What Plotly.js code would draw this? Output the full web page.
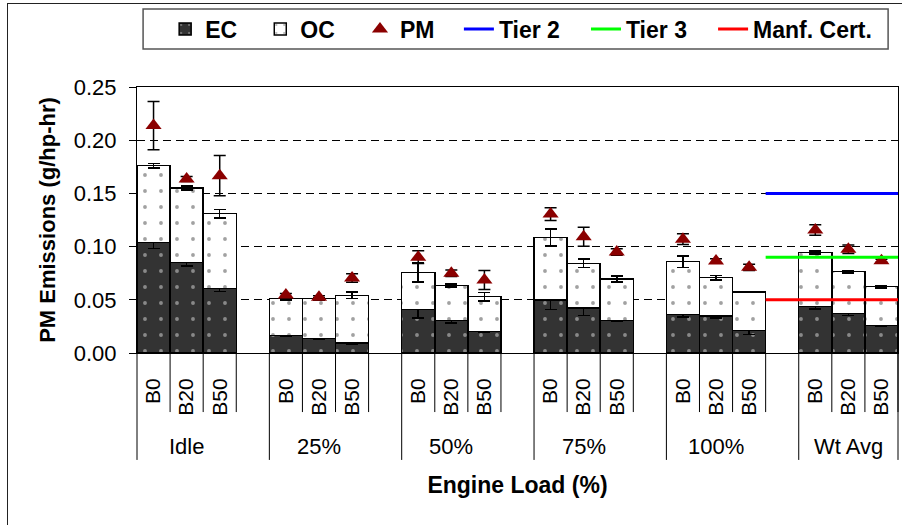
<!DOCTYPE html>
<html><head><meta charset="utf-8">
<script src="https://cdn.plot.ly/plotly-3.0.1.min.js"></script>
<style>
html,body{margin:0;padding:0;background:#fff;}
#wrap{position:relative;width:902px;height:525px;overflow:hidden;}
#chart{width:902px;height:525px;}
#frame{position:absolute;left:7px;top:3px;width:1000px;height:1000px;border-left:1.5px solid #222;border-top:1.5px solid #222;pointer-events:none;}
</style></head><body>
<div id="wrap"><div id="chart"></div><div id="frame"></div></div>
<script>
// ---- data ----
const groups = ['Idle', '25%', '50%', '75%', '100%', 'Wt Avg'];
const fuels = ['B0', 'B20', 'B50'];
const ecVals = [0.104, 0.085, 0.0605, 0.0166, 0.0138, 0.0094, 0.041, 0.0304, 0.020, 0.0498, 0.0423, 0.0304, 0.036, 0.0348, 0.0213, 0.0435, 0.0373, 0.0257];
const ecErr  = [0.006, 0.003, 0.0025, 0.001, 0.0008, 0.001, 0.008, 0.0022, 0.0005, 0.0088, 0.0069, 0.001, 0.002, 0.0017, 0.004, 0.002, 0.002, 0.001];
const ocVals = [0.072, 0.070, 0.0705, 0.0344, 0.0372, 0.0448, 0.0345, 0.0329, 0.0329, 0.0586, 0.042, 0.0391, 0.0498, 0.036, 0.036, 0.0511, 0.0391, 0.0366];
const ocErr  = [0.002, 0.002, 0.004, 0.001, 0.001, 0.003, 0.009, 0.0015, 0.004, 0.008, 0.004, 0.003, 0.0055, 0.002, 0.0005, 0.0015, 0.001, 0.001];
const pmVals = [0.2137, 0.1635, 0.1667, 0.0545, 0.0523, 0.0705, 0.090, 0.0749, 0.0686, 0.1306, 0.1093, 0.0949, 0.107, 0.0865, 0.0805, 0.1156, 0.0974, 0.0867];
const pmErr  = [0.0226, 0.0023, 0.019, 0.0015, 0.0015, 0.004, 0.006, 0.003, 0.009, 0.006, 0.009, 0.003, 0.005, 0.002, 0.003, 0.005, 0.004, 0.0015];
const tierNames = ['Tier 2', 'Tier 3', 'Manf. Cert.'];
const tierVals = [0.15, 0.09, 0.05];

// ---- layout helpers ----
const FONT = 'Liberation Sans, Arial, Helvetica, sans-serif';
const slotsPerGroup = fuels.length + 1;
const xPos = [], xLab = [];
groups.forEach((g, gi) => fuels.forEach((f, fi) => { xPos.push(gi * slotsPerGroup + fi); xLab.push(f); }));
const xMin = -0.5, xMax = xPos[xPos.length - 1] + 0.5;
const toPaper = v => (v - xMin) / (xMax - xMin);

const tierColors = ['#0000FF', '#00FF00', '#FF0000'];
const lastGroupStart = (groups.length - 1) * slotsPerGroup;
const tierX = [lastGroupStart - 1.5, xMax];

const traces = [
  { type: 'bar', name: 'EC', x: xPos, y: ecVals, legend: 'legend',
    marker: { color: '#333333', line: { color: '#000', width: 1.5 },
      pattern: { shape: '.', bgcolor: '#333333', fgcolor: '#e0e0e0', size: 16, solidity: 0.045, fillmode: 'overlay' } },
    error_y: { type: 'data', array: ecErr, visible: true, color: '#000', thickness: 1.5, width: 6 } },
  { type: 'bar', name: 'OC', x: xPos, y: ocVals, legend: 'legend2',
    marker: { color: '#ffffff', line: { color: '#000', width: 1.5 },
      pattern: { shape: '.', bgcolor: '#ffffff', fgcolor: '#444444', size: 16, solidity: 0.045, fillmode: 'overlay' } },
    error_y: { type: 'data', array: ocErr, visible: true, color: '#000', thickness: 1.5, width: 6 } },
  { type: 'scatter', mode: 'markers', name: 'PM', x: xPos, y: pmVals, legend: 'legend3',
    marker: { symbol: 'triangle-up', size: 14, color: '#8B0000' },
    error_y: { type: 'data', array: pmErr, visible: true, color: '#000', thickness: 1.5, width: 6 } }
];
tierNames.forEach((n, i) => traces.push({
  type: 'scatter', mode: 'lines', name: n, x: tierX, y: [tierVals[i], tierVals[i]],
  legend: 'legend' + (i + 4), line: { color: tierColors[i], width: 3 }
}));

// separators below the axis
const shapes = [];
xPos.forEach(p => shapes.push({ type: 'line', xref: 'paper', yref: 'paper',
  x0: toPaper(p + 0.5), x1: toPaper(p + 0.5), y0: 0, y1: -0.222, line: { color: '#000', width: 1 } }));
const longX = groups.map((g, gi) => gi * slotsPerGroup - 0.5).concat([xMax]);
longX.forEach(v => shapes.push({ type: 'line', xref: 'paper', yref: 'paper',
  x0: toPaper(v), x1: toPaper(v), y0: 0, y1: -0.402, line: { color: '#000', width: 1 } }));
// legend frame
shapes.push({ type: 'rect', xref: 'paper', yref: 'paper', x0: 0.008, x1: 0.987, y0: 1.143, y1: 1.293,
  line: { color: '#555', width: 1.5 }, fillcolor: 'rgba(0,0,0,0)' });

const annotations = groups.map((g, gi) => ({
  text: g, xref: 'paper', yref: 'paper', x: toPaper(gi * slotsPerGroup + 1), y: -0.353,
  xanchor: 'center', yanchor: 'middle', showarrow: false, font: { family: FONT, size: 22, color: '#000' }
}));

const legFont = { family: FONT, size: 23, weight: 'bold', color: '#000' };
const mkLeg = x => ({ x: x, y: 1.218, xanchor: 'left', yanchor: 'middle', orientation: 'h',
  bgcolor: 'rgba(0,0,0,0)', borderwidth: 0, font: legFont, itemwidth: 30 });

const layout = {
  width: 902, height: 525,
  margin: { l: 137, r: 4, t: 87, b: 172, pad: 0 },
  paper_bgcolor: '#fff', plot_bgcolor: '#fff',
  barmode: 'stack', bargap: 0,
  font: { family: FONT, color: '#000' },
  showlegend: true,
  legend: mkLeg(0.037), legend2: mkLeg(0.162), legend3: mkLeg(0.293),
  legend4: mkLeg(0.423), legend5: mkLeg(0.590), legend6: mkLeg(0.757),
  xaxis: { range: [xMin, xMax], tickvals: xPos, ticktext: xLab, tickangle: -90, ticks: '',
    showgrid: false, zeroline: false, showline: true, mirror: true, linecolor: '#000', linewidth: 1,
    tickfont: { family: FONT, size: 21, color: '#000' }, ticklabelstandoff: 16,
    title: { text: 'Engine Load (%)', font: { family: FONT, size: 23, weight: 'bold', color: '#000' }, standoff: 62 } },
  yaxis: { range: [0, 0.25], dtick: 0.05, tickformat: '.2f', ticks: 'outside', ticklen: 7, tickcolor: '#000',
    showgrid: true, gridcolor: '#000', gridwidth: 1, griddash: '8px,5px', zeroline: false,
    showline: true, mirror: true, linecolor: '#000', linewidth: 1,
    tickfont: { family: FONT, size: 22, color: '#000' }, ticklabelstandoff: 8,
    title: { text: 'PM Emissions (g/hp-hr)', font: { family: FONT, size: 22, weight: 'bold', color: '#000' }, standoff: 12 } },
  shapes: shapes, annotations: annotations
};

Plotly.newPlot('chart', traces, layout, { displayModeBar: false, staticPlot: true });
</script>
</body></html>
